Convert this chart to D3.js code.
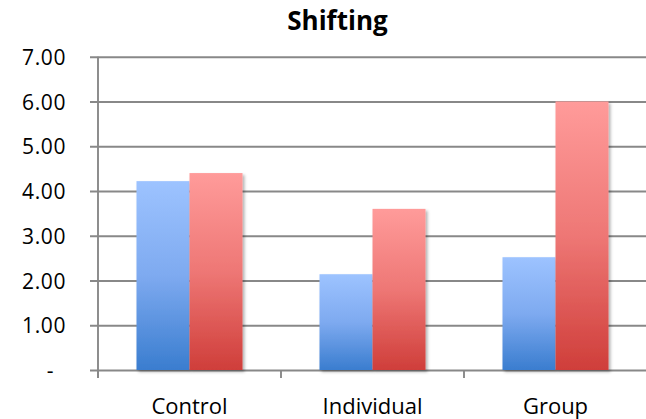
<!DOCTYPE html>
<html>
<head>
<meta charset="utf-8">
<script src="https://cdn.jsdelivr.net/npm/d3@7"></script>
<style>
  html, body { margin: 0; padding: 0; background: #fff; }
  svg { display: block; }
  text { font-family: "Open Sans", "DejaVu Sans", sans-serif; fill: #000; }
</style>
</head>
<body>
<svg id="chart" width="646" height="419"></svg>
<script>
// Chart data
const title = "Shifting";
const categories = ["Control", "Individual", "Group"];
const seriesNames = ["seriesA", "seriesB"];
const seriesA = [4.22, 2.14, 2.52];
const seriesB = [4.40, 3.60, 6.00];
const yTicks = [0, 1, 2, 3, 4, 5, 6, 7];

const rows = categories.map((c, i) => ({ category: c, values: [seriesA[i], seriesB[i]] }));

const W = 646, H = 419;
const m = { left: 98, right: -1, top: 56.7, bottom: 49 };

const svg = d3.select("#chart");

const x = d3.scaleBand().domain(categories).range([m.left, W - m.right]).padding(0);
const x1 = d3.scaleBand().domain(seriesNames).range([0, x.bandwidth()])
  .paddingInner(0).paddingOuter(0.726);
const y = d3.scaleLinear().domain([0, 7]).range([H - m.bottom, m.top]);

// Gradients and shadow
const defs = svg.append("defs");
const grads = [
  { id: "gA", top: "#9dc3ff", mid: "#7eaaf0", bot: "#3a7dcf" },
  { id: "gB", top: "#ff9b9a", mid: "#ee7775", bot: "#cf3e3a" }
];
grads.forEach(g => {
  const lg = defs.append("linearGradient").attr("id", g.id)
    .attr("x1", 0).attr("y1", 0).attr("x2", 0).attr("y2", 1);
  lg.append("stop").attr("offset", "0%").attr("stop-color", g.top);
  lg.append("stop").attr("offset", "50%").attr("stop-color", g.mid);
  lg.append("stop").attr("offset", "100%").attr("stop-color", g.bot);
});
const f = defs.append("filter").attr("id", "shadow")
  .attr("x", "-20%").attr("y", "-20%").attr("width", "150%").attr("height", "150%");
f.append("feDropShadow").attr("dx", 2).attr("dy", 2).attr("stdDeviation", 1.8)
  .attr("flood-color", "#000").attr("flood-opacity", 0.3);

const gridColor = "#888888";
const gridWidth = 1.9;

// Horizontal gridlines with left tick marks and labels
const yAxis = d3.axisLeft(y).tickValues(yTicks)
  .tickSize(-(W - m.left + 8))
  .tickFormat(d => d === 0 ? "-" : d3.format(".2f")(d));
const gy = svg.append("g").attr("transform", `translate(${m.left - 8},0)`).call(yAxis);
gy.select(".domain").remove();
gy.selectAll(".tick line").attr("stroke", gridColor).attr("stroke-width", gridWidth);
gy.selectAll(".tick text")
  .attr("x", -24)
  .attr("dy", "0.36em")
  .style("font-size", "21px")
  .style("letter-spacing", "0.6px")
  .attr("text-anchor", "end")
  .attr("fill", "#000");
gy.selectAll(".tick text").filter(d => d === 0).attr("x", -36);

// Vertical axis line
svg.append("line")
  .attr("x1", m.left).attr("x2", m.left)
  .attr("y1", y(7)).attr("y2", y(0) + 8)
  .attr("stroke", gridColor).attr("stroke-width", gridWidth);

// Category boundary ticks on the bottom axis
const bounds = categories.map(c => x(c)).concat([x(categories[categories.length - 1]) + x.bandwidth()]);
svg.append("g").selectAll("line").data(bounds).join("line")
  .attr("x1", d => d).attr("x2", d => d)
  .attr("y1", y(0)).attr("y2", y(0) + 8)
  .attr("stroke", gridColor).attr("stroke-width", gridWidth);

// Bars
const groups = svg.append("g").selectAll("g").data(rows).join("g")
  .attr("transform", d => `translate(${x(d.category)},0)`);
groups.selectAll("rect")
  .data(d => d.values.map((v, i) => ({ key: seriesNames[i], value: v, idx: i })))
  .join("rect")
  .attr("x", d => x1(d.key))
  .attr("width", x1.bandwidth())
  .attr("y", d => y(d.value))
  .attr("height", d => y(0) - y(d.value))
  .attr("fill", d => `url(#${grads[d.idx].id})`)
  .attr("filter", "url(#shadow)");

// Category labels
svg.append("g").selectAll("text").data(categories).join("text")
  .attr("x", d => x(d) + x.bandwidth() / 2)
  .attr("y", 414)
  .attr("text-anchor", "middle")
  .style("font-size", "22px")
  .text(d => d);

// Title
svg.append("text")
  .attr("x", 337.5).attr("y", 29.5)
  .attr("text-anchor", "middle")
  .style("font-size", "26px")
  .style("font-weight", "bold")
  .text(title);
</script>
</body>
</html>
